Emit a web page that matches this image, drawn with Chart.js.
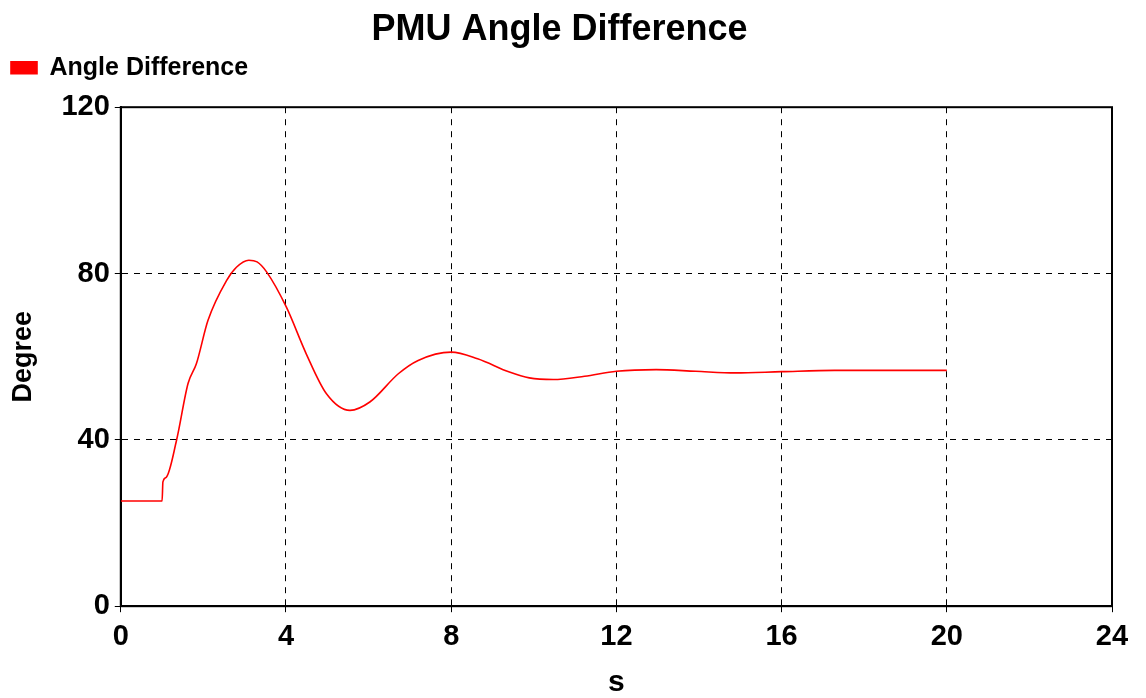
<!DOCTYPE html>
<html>
<head>
<meta charset="utf-8">
<title>PMU Angle Difference</title>
<script src="https://cdn.jsdelivr.net/npm/chart.js@4/dist/chart.umd.min.js"></script>
<style>
    html, body {
        margin: 0;
        padding: 0;
        background: #ffffff;
    }

    #wrap {
        width: 1146px;
        height: 698px;
    }
</style>
</head>
<body>
<div id="wrap"><canvas id="angleChart" width="1146" height="698"></canvas></div>
<script>
    // simulation time (s) and PMU angle difference (degree)
    const timeS = [
        0, 1.0, 1.02, 1.1, 1.35, 1.63, 1.83, 2.11, 2.56, 2.8, 3.1, 3.3, 3.53,
        4.01, 4.49, 4.98, 5.55, 6.03, 6.72, 7.2, 8.0, 8.64, 9.41, 9.89, 10.47,
        11.23, 12.0, 12.96, 13.92, 14.88, 16.0, 17.28, 20.0,
    ];
    const angleDeg = [
        25.3, 25.3, 29.9, 31.0, 39.9, 53.6, 58.3, 68.7, 78.3, 81.5, 83.2, 82.8, 80.4,
        71.9, 60.7, 51.1, 47.1, 49.1, 55.9, 59.1, 61.1, 59.5, 56.3, 54.9, 54.5,
        55.3, 56.5, 56.9, 56.5, 56.1, 56.4, 56.7, 56.7,
    ];

    const xTicks = [0, 4, 8, 12, 16, 20, 24];
    const yTicks = [0, 40, 80, 120];

    const FONT = "'Liberation Sans', Arial, sans-serif";

    // leave room between the legend row and the top of the plot
    const legendGap = {
        id: "legendGap",
        beforeInit(chart) {
            const fit = chart.legend.fit;
            chart.legend.fit = function () {
                fit.bind(chart.legend)();
                this.height += 17;
            };
        },
    };

    // solid frame round the plot area
    const plotFrame = {
        id: "plotFrame",
        beforeDatasetsDraw(chart) {
            const { ctx, chartArea } = chart;
            ctx.save();
            ctx.strokeStyle = "#000000";
            ctx.lineWidth = 2;
            ctx.setLineDash([]);
            ctx.strokeRect(
                chartArea.left,
                chartArea.top,
                chartArea.right - chartArea.left,
                chartArea.bottom - chartArea.top
            );
            ctx.restore();
        },
    };

    new Chart(document.getElementById("angleChart"), {
        type: "line",

        data: {
            datasets: [
                {
                    label: "Angle Difference",

                    data: timeS.map((t, i) => ({ x: t, y: angleDeg[i] })),

                    borderColor: "#ff0000",
                    backgroundColor: "#ff0000",

                    borderWidth: 1.6,

                    cubicInterpolationMode: "monotone",

                    pointRadius: 0,
                    fill: false,
                },
            ],
        },

        options: {
            responsive: false,
            animation: false,

            layout: {
                padding: { left: 7, right: 34, top: 0, bottom: 0 },
            },

            plugins: {
                title: {
                    display: true,
                    text: "PMU Angle Difference",
                    color: "#000000",
                    font: { family: FONT, size: 36, weight: "bold" },
                    padding: { top: 8, bottom: 0 },
                },

                legend: {
                    display: true,
                    align: "start",

                    labels: {
                        color: "#000000",
                        boxWidth: 26,
                        boxHeight: 12,
                        padding: 4,
                        font: { family: FONT, size: 25, weight: "bold" },
                    },
                },

                tooltip: { enabled: false },
            },

            scales: {
                x: {
                    type: "linear",
                    min: 0,
                    max: 24,

                    afterBuildTicks(axis) {
                        axis.ticks = xTicks.map((v) => ({ value: v }));
                    },

                    grid: {
                        color: "#000000",
                        lineWidth: 1,
                        tickLength: 6,
                        tickColor: "#000000",
                    },

                    border: {
                        color: "#000000",
                        width: 2,
                        dash: [6, 6],
                    },

                    ticks: {
                        color: "#000000",
                        padding: 7,
                        maxRotation: 0,
                        font: { family: FONT, size: 29, weight: "bold" },
                    },

                    title: {
                        display: true,
                        text: "s",
                        color: "#000000",
                        padding: { top: 7, bottom: 0 },
                        font: { family: FONT, size: 30, weight: "bold", lineHeight: 1 },
                    },
                },

                y: {
                    type: "linear",
                    min: 0,
                    max: 120,

                    afterBuildTicks(axis) {
                        axis.ticks = yTicks.map((v) => ({ value: v }));
                    },

                    grid: {
                        color: "#000000",
                        lineWidth: 1,
                        tickLength: 6,
                        tickColor: "#000000",
                    },

                    border: {
                        color: "#000000",
                        width: 2,
                        dash: [6, 6],
                    },

                    ticks: {
                        color: "#000000",
                        padding: 5,
                        font: { family: FONT, size: 29, weight: "bold" },
                    },

                    title: {
                        display: true,
                        text: "Degree",
                        color: "#000000",
                        padding: { top: 0, bottom: 17 },
                        font: { family: FONT, size: 27, weight: "bold" },
                    },
                },
            },
        },

        plugins: [legendGap, plotFrame],
    });
</script>
</body>
</html>
